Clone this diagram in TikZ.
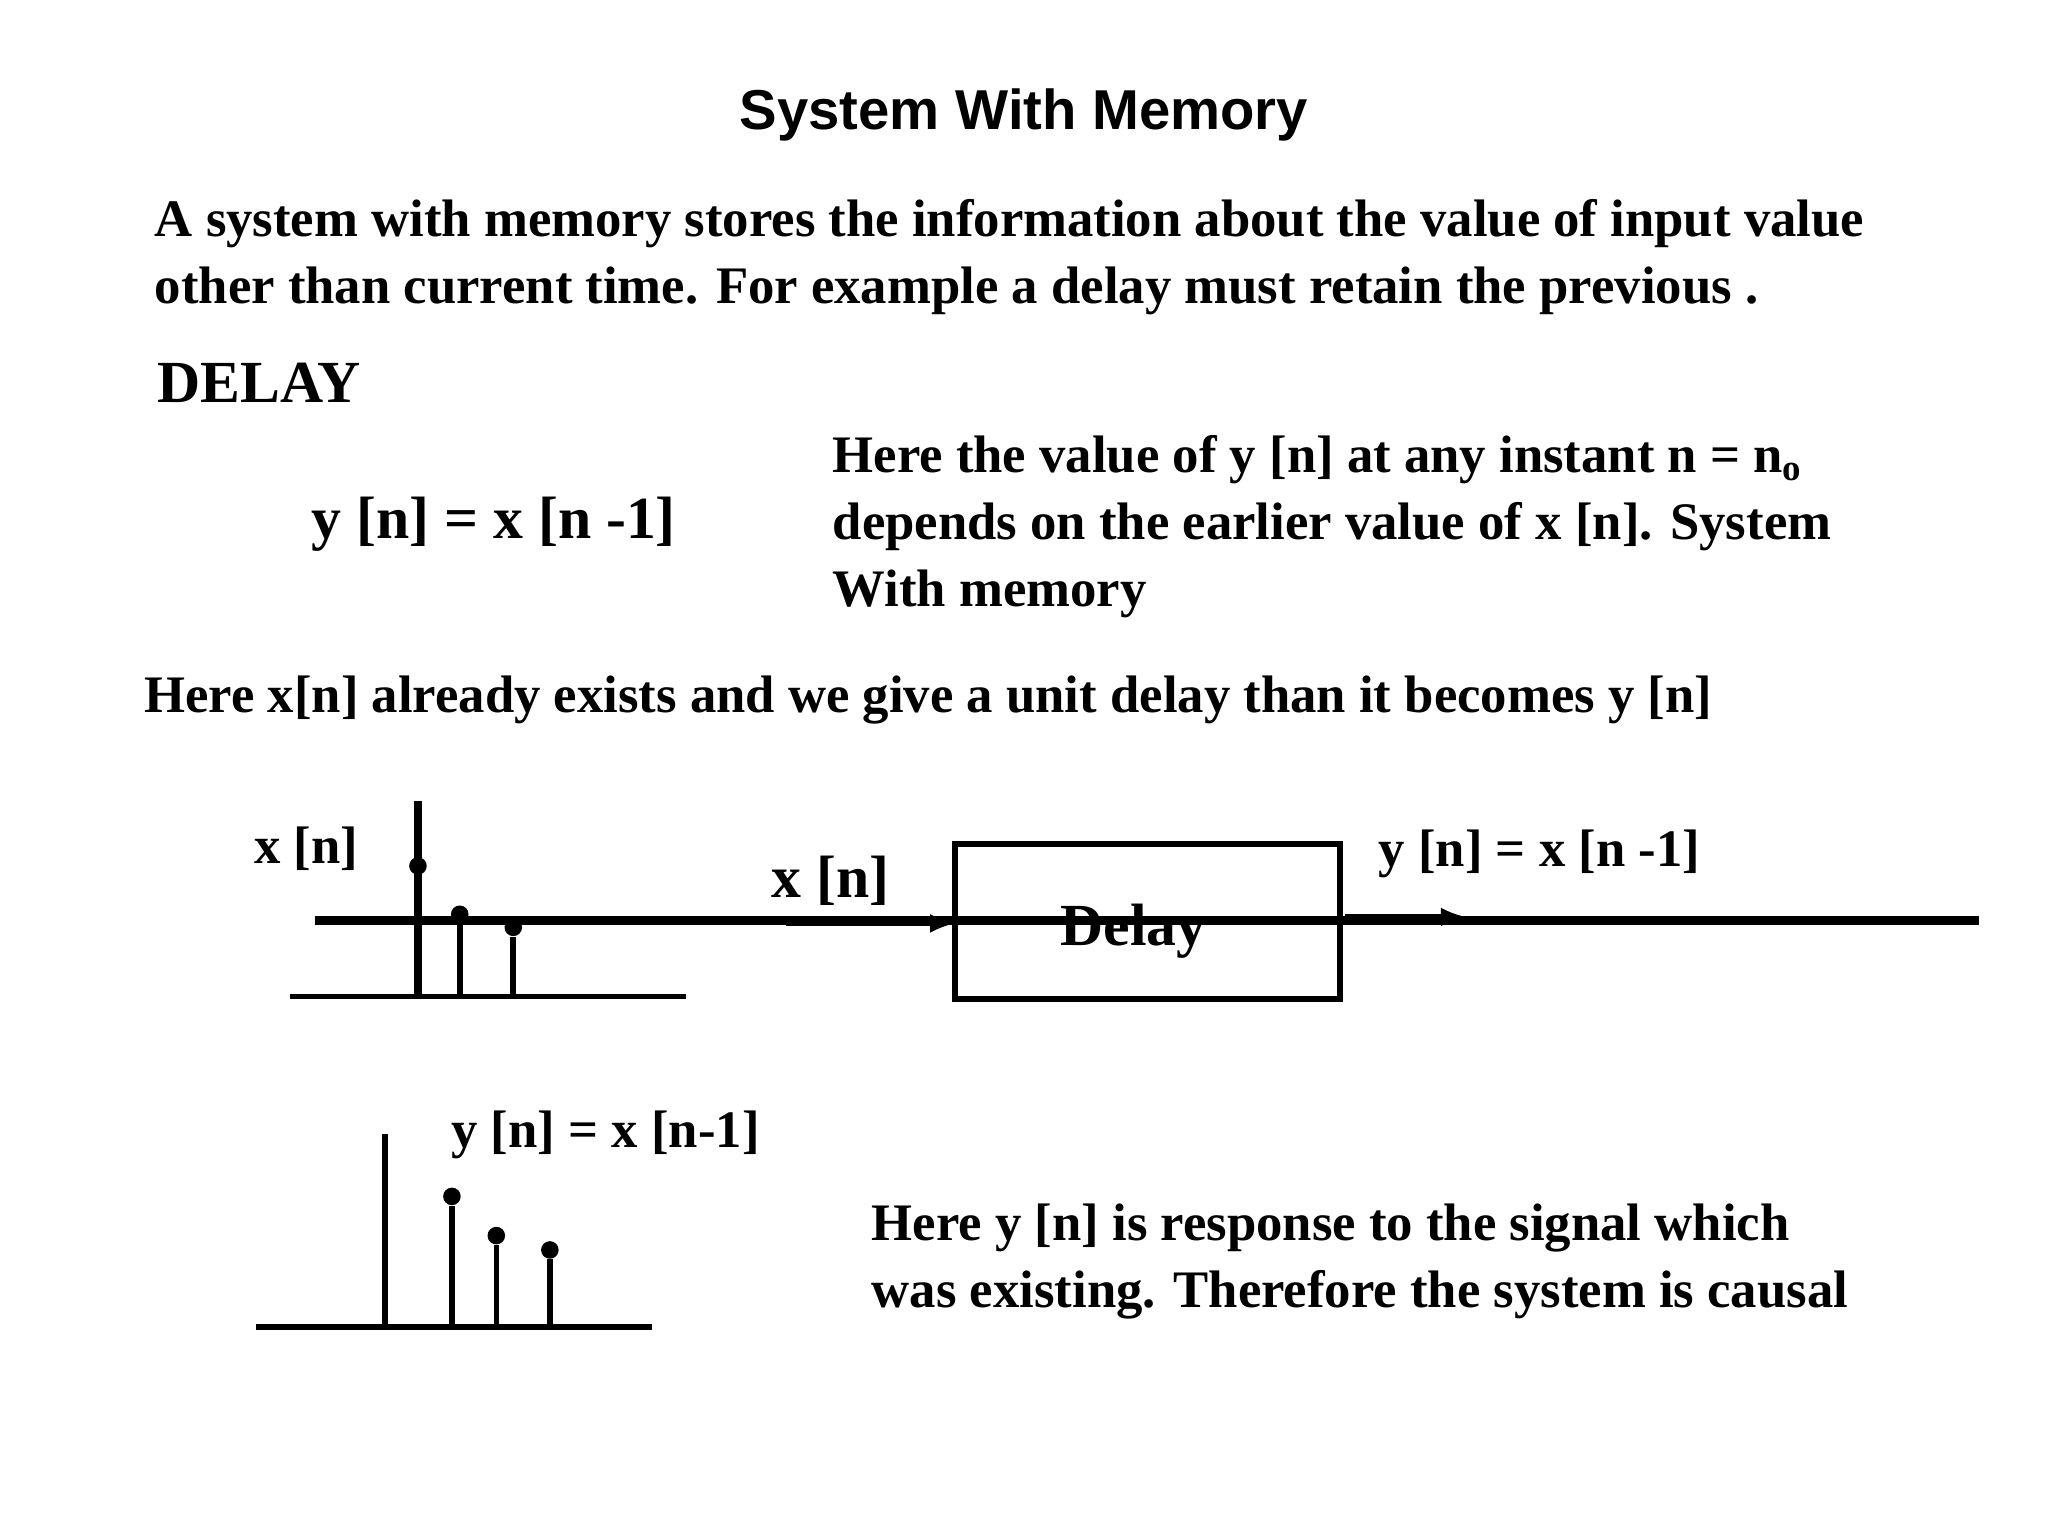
\documentclass[tikz,border=0pt]{standalone}
\usepackage{fontspec}
\setmainfont{Liberation Serif}
\newfontfamily\titlefont{Liberation Sans}
\usetikzlibrary{arrows}
\tikzset{
  txt/.style={anchor=west, inner sep=0pt, font=\bfseries\fontsize{15}{19}\selectfont, align=left},
  axis/.style={line width=1.6pt},
  stem/.style={line width=1.6pt},
  dot/.style={circle, fill=black, inner sep=0pt, minimum size=5pt}
}
\begin{document}
\begin{tikzpicture}[x=0.01306cm, y=-0.01306cm]
        \useasboundingbox (0,0) rectangle (1568,1176);

        \node[anchor=center, inner sep=0pt, font=\titlefont\bfseries\fontsize{16}{19}\selectfont] (title) at (784,88) {System With Memory};
        \node[txt] (intro) at (118,197) {A system with memory stores the information about the value of input value\\other than current time. For example a delay must retain the previous .};
        \node[txt, font=\bfseries\fontsize{17}{20}\selectfont] (delay) at (120,293) {DELAY};
        \node[txt, font=\bfseries\fontsize{17}{20}\selectfont] (eq) at (238,401) {y [n] = x [n -1]};
        \node[txt] (expl) at (637,403) {Here the value of y [n] at any instant n = n$_{\mathbf{o}}$\\depends on the earlier value of x [n]. System\\With memory};
        \node[txt] (exists) at (110,536) {Here x[n] already exists and we give a unit delay than it becomes y [n]};

        % input signal
        \node[txt, font=\bfseries\fontsize{15}{19}\selectfont] (xlab) at (194,650) {x [n]};
        \coordinate (xa0) at (222,763);
        \coordinate (xa1) at (525,763);
        \draw[axis] (xa0) -- (xa1);
        \coordinate (xv) at (320,613);
        \draw[stem, line width=2.4pt] (320,763) -- (xv);
        \node[dot] (x0) at (320,663) {};
        \node[dot] (x1) at (352,700) {};
        \node[dot] (x2) at (393,710) {};
        \draw[stem] (x1) -- (352,763);
        \draw[stem] (x2) -- (393,763);

        % delay block
        \node[draw, line width=1.6pt, minimum width=295\pgflinewidth, inner sep=0pt] (box) at (878,705) {};
        \draw[line width=1.8pt] (731,646) rectangle (1026,765);
        \node[anchor=center, inner sep=0pt, font=\bfseries\fontsize{17}{20}\selectfont] (dl) at (868,713) {Delay};
        \node[txt, font=\bfseries\fontsize{17}{20}\selectfont] (inlab) at (590,674) {x [n]};
        \coordinate (in) at (602,707);
        \coordinate (boxin) at (731,707);
        \draw[line width=1.4pt, -latex] (in) -- (boxin);
        \node[txt] (outlab) at (1055,654) {y [n] = x [n -1]};
        \coordinate (boxout) at (1030,702);
        \coordinate (out) at (1122,702);
        \draw[line width=1.4pt, -latex] (boxout) -- (out);

        % output signal
        \node[txt] (ylab) at (345,869) {y [n] = x [n-1]};
        \coordinate (ya0) at (196,1016);
        \coordinate (ya1) at (499,1016);
        \draw[axis] (ya0) -- (ya1);
        \draw[stem] (295,1016) -- (295,868);
        \node[dot] (y0) at (346,916) {};
        \node[dot] (y1) at (380,946) {};
        \node[dot] (y2) at (421,957) {};
        \draw[stem] (y0) -- (346,1016);
        \draw[stem] (y1) -- (380,1016);
        \draw[stem] (y2) -- (421,1016);

        \node[txt] (causal) at (667,966) {Here y [n] is response to the signal which\\was existing. Therefore the system is causal};
    \end{tikzpicture}
\end{document}
